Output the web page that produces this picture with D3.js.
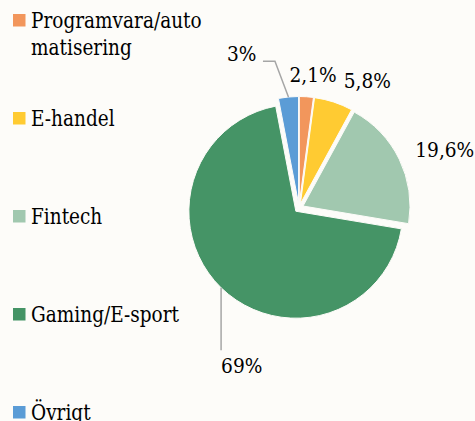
<!DOCTYPE html>
<html>
<head>
<meta charset="utf-8">
<script src="https://cdn.jsdelivr.net/npm/d3@7"></script>
<style>
  html, body { margin: 0; padding: 0; background: #fdfcf9; }
  svg { display: block; }
  text { font-family: "DejaVu Serif"; fill: #000; }
  .leader { fill: none; stroke: #a6a6a6; stroke-width: 1.5px; }
</style>
</head>
<body>
<div id="chart"></div>
<script>
// chart data
var categories = ['Programvara/automatisering', 'E-handel', 'Fintech', 'Gaming/E-sport', 'Övrigt'];
var legendLines = [['Programvara/auto', 'matisering'], ['E-handel'], ['Fintech'], ['Gaming/E-sport'], ['Övrigt']];
var shares = [2.1, 5.8, 19.6, 69, 3];
var shareLabels = ['2,1%', '5,8%', '19,6%', '69%', '3%'];
var colors = ['#f2965c', '#ffcb32', '#a1c8af', '#459466', '#5b9cd6'];

var width = 475, height = 421;
var cx = 299, cy = 208, radius = 107, explode = 4.5;
// only DejaVu Serif is around, it runs wider than Times, so squeeze it a bit
var squeeze = 0.86;

var svg = d3.select('#chart').append('svg')
  .attr('width', width)
  .attr('height', height);

svg.append('rect')
  .attr('width', width).attr('height', height)
  .attr('fill', '#fdfcf9');

var pie = d3.pie().sort(null).value(d => d);
var arcs = pie(shares);

var arc = d3.arc().innerRadius(0).outerRadius(radius);

// point along a slice's middle angle, r px from the pie centre
var midPoint = (d, r) => {
  var a = (d.startAngle + d.endAngle) / 2;
  return [Math.sin(a) * r, -Math.cos(a) * r];
};

var g = svg.append('g')
  .attr('transform', 'translate(' + cx + ',' + cy + ')');

g.selectAll('path.slice')
  .data(arcs)
  .enter().append('path')
    .attr('class', 'slice')
    .attr('d', arc)
    .attr('transform', d => 'translate(' + midPoint(d, explode) + ')')
    .attr('fill', (d, i) => colors[i])
    .attr('stroke', '#fdfcf9')
    .attr('stroke-width', 1);

// labels: outside end, nudged like Excel does it. two of them get leader lines
var labelGap = 10;
var labelPlace = [
  {anchor: 'middle', dx: 6, dy: -4.5},
  {anchor: 'start', dx: 7, dy: -5},
  {anchor: 'start', dx: 7, dy: 2},
  {anchor: 'start', leader: [[0, 62.5]], dx: 0, dy: 85},
  {anchor: 'end', leader: [[-13.5, -35.8], [-25.5, -35.8]], dx: -32, dy: -35.5}
];

arcs.forEach((d, i) => {
  var p = labelPlace[i];
  var x, y;
  if (p.leader) {
    var e = midPoint(d, radius + explode);
    var pts = [e].concat(p.leader.map(o => [e[0] + o[0], e[1] + o[1]]));
    g.append('path')
      .attr('class', 'leader')
      .attr('d', d3.line()(pts));
    x = e[0] + p.dx; y = e[1] + p.dy;
  } else {
    var m = midPoint(d, radius + explode + labelGap);
    x = m[0] + p.dx; y = m[1] + p.dy;
  }
  g.append('text')
    .attr('transform', 'translate(' + x + ',' + y + ') scale(' + 0.93 + ',1)')
    .attr('text-anchor', p.anchor)
    .attr('font-size', 20)
    .text(shareLabels[i]);
});

// legend down the left side
var legendY = d3.scaleLinear()
  .domain([0, categories.length - 1])
  .range([28, 420]);

var legend = svg.append('g').attr('class', 'legend');

var item = legend.selectAll('g')
  .data(categories)
  .enter().append('g')
    .attr('transform', (d, i) => 'translate(0,' + legendY(i) + ')');

item.append('rect')
  .attr('x', 13).attr('y', -14)
  .attr('width', 12.5).attr('height', 12.5)
  .attr('fill', (d, i) => colors[i]);

item.append('text')
  .attr('transform', 'translate(31,0) scale(' + squeeze + ',1)')
  .attr('font-size', 21.5)
  .selectAll('tspan')
  .data((d, i) => legendLines[i])
  .enter().append('tspan')
    .attr('x', 0)
    .attr('dy', (d, j) => j ? 27 : 0)
    .text(d => d);
</script>
</body>
</html>
